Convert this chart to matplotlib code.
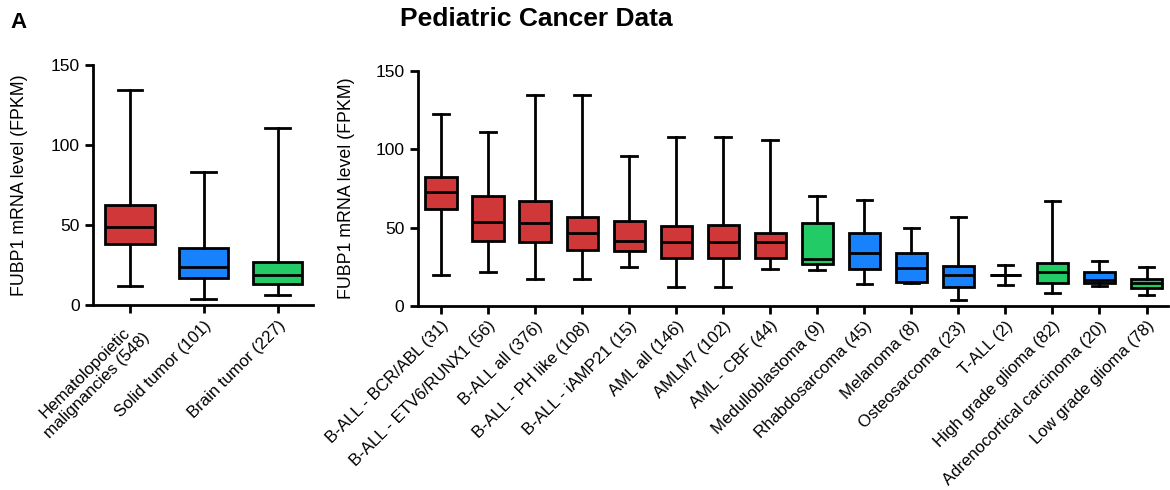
import matplotlib
matplotlib.use('Agg')
import matplotlib.pyplot as plt

plt.rcParams['font.family'] = ['Liberation Sans', 'DejaVu Sans']

# left panel: broad tumour classes
left_labels = ['Hematolopoietic\nmalignancies (548)', 'Solid tumor (101)', 'Brain tumor (227)']
left_group = ['heme', 'solid', 'brain']
left_whislo = [11.9, 3.7, 6.4]
left_q1 = [38.1, 16.9, 13.5]
left_med = [48.9, 23.9, 18.7]
left_q3 = [62.4, 36.0, 26.8]
left_whishi = [134.2, 83.0, 110.5]

# right panel: subtypes
right_labels = ['B-ALL - BCR/ABL (31)', 'B-ALL - ETV6/RUNX1 (56)', 'B-ALL all (376)',
                'B-ALL - PH like (108)', 'B-ALL - iAMP21 (15)', 'AML all (146)',
                'AMLM7 (102)', 'AML - CBF (44)', 'Medulloblastoma (9)', 'Rhabdosarcoma (45)',
                'Melanoma (8)', 'Osteosarcoma (23)', 'T-ALL (2)', 'High grade glioma (82)',
                'Adrenocortical carcinoma (20)', 'Low grade glioma (78)']
right_group = ['heme'] * 8 + ['brain', 'solid', 'solid', 'solid', 'heme', 'brain', 'solid', 'brain']
right_whislo = [19.8, 21.5, 17.3, 17.3, 24.5, 11.9, 11.9, 23.4, 23.0, 14.1, 14.3, 3.8, 13.2, 8.3, 12.4, 6.6]
right_q1 = [61.8, 41.1, 40.5, 35.6, 35.2, 30.5, 30.5, 30.5, 26.6, 23.2, 15.3, 11.7, 19.6, 14.7, 14.5, 11.1]
right_med = [72.4, 53.3, 53.1, 46.2, 41.3, 40.7, 40.7, 40.9, 29.8, 33.5, 24.3, 19.4, 19.6, 21.7, 16.4, 14.3]
right_q3 = [82.0, 70.3, 66.7, 56.7, 53.9, 50.7, 51.6, 46.5, 53.1, 46.7, 33.9, 25.6, 19.6, 27.5, 21.7, 17.3]
right_whishi = [122.7, 110.8, 134.5, 134.5, 95.5, 108.0, 108.0, 105.7, 70.3, 67.5, 49.9, 56.7, 26.0, 66.7, 28.8, 24.9]

colors = {'heme': '#D03739', 'solid': '#1782FC', 'brain': '#22CB66'}
LW = 2.0


def draw_panel(ax, labels, groups, lo, q1, med, q3, hi, xmax, ylab_x):
    stats = []
    for i in range(len(labels)):
        stats.append({'whislo': lo[i], 'q1': q1[i], 'med': med[i], 'q3': q3[i],
                      'whishi': hi[i], 'fliers': [], 'label': labels[i]})
    pos = list(range(1, len(labels) + 1))
    bp = ax.bxp(stats, positions=pos, widths=0.67, patch_artist=True, showfliers=False,
                boxprops=dict(linewidth=LW, edgecolor='black'),
                medianprops=dict(color='black', linewidth=LW),
                whiskerprops=dict(color='black', linewidth=LW),
                capprops=dict(color='black', linewidth=LW))
    for patch, g in zip(bp['boxes'], groups):
        patch.set_facecolor(colors[g])
    ax.set_xlim(0.5, xmax)
    ax.set_ylim(0, 150)
    ax.set_yticks([0, 50, 100, 150])
    ax.spines['top'].set_visible(False)
    ax.spines['right'].set_visible(False)
    ax.spines['left'].set_linewidth(LW)
    ax.spines['bottom'].set_linewidth(LW)
    ax.tick_params(width=LW, length=6, direction='out')
    ax.tick_params(axis='x', pad=3)
    ax.tick_params(axis='y', labelsize=12.5)
    ax.set_xticks(pos)
    ax.set_xticklabels(labels, rotation=45, ha='right', rotation_mode='anchor',
                       fontsize=12.1, multialignment='center')
    ax.set_ylabel('FUBP1 mRNA level (FPKM)', fontsize=12.8, va='center')
    ax.yaxis.set_label_coords(ylab_x, 0.5)


fig = plt.figure(figsize=(11.7, 4.9), dpi=100)
ax1 = fig.add_axes([0.0795, 0.377, 0.188, 0.490])
ax2 = fig.add_axes([0.357, 0.376, 0.641, 0.479])

draw_panel(ax1, left_labels, left_group, left_whislo, left_q1, left_med, left_q3, left_whishi, 3.48, -0.336)
draw_panel(ax2, right_labels, right_group, right_whislo, right_q1, right_med, right_q3, right_whishi, 16.45, -0.095)

fig.text(0.458, 0.962, 'Pediatric Cancer Data', ha='center', va='center', fontsize=19, fontweight='bold')
fig.text(0.009, 0.955, 'A', ha='left', va='center', fontsize=16, fontweight='bold')

fig.savefig('out.png', dpi=100)
